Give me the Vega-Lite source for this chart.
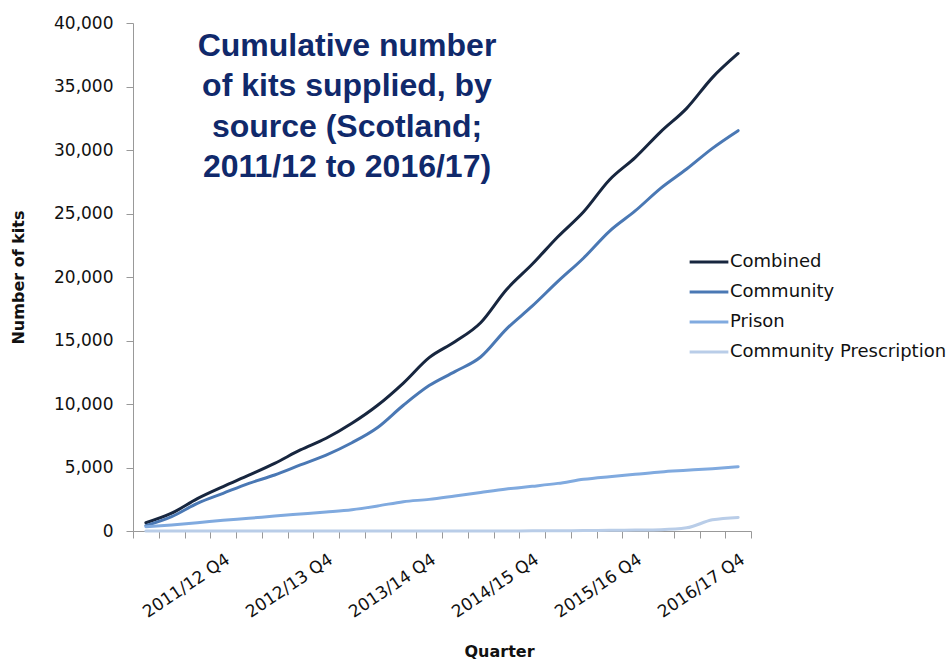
{
  "$schema": "https://vega.github.io/schema/vega-lite/v6.json",
  "autosize": "none",
  "width": 618,
  "height": 508,
  "padding": {"left": 133, "top": 23, "right": 197, "bottom": 130},
  "background": "white",
  "config": {
    "view": {"stroke": null},
    "font": "DejaVu Sans"
  },
  "title": {
    "text": ["Cumulative number", "of kits supplied, by", "source (Scotland;", "2011/12 to 2016/17)"],
    "anchor": "start",
    "align": "center",
    "frame": "group",
    "orient": "top",
    "offset": 0,
    "dx": 214,
    "dy": 170,
    "baseline": "top",
    "font": "Liberation Sans",
    "fontSize": 32,
    "fontWeight": "bold",
    "lineHeight": 40.5,
    "color": "#10296b"
  },
  "data": {
    "values": [
      {"quarter": "2011/12 Q1", "source": "Combined", "kits": 650},
      {"quarter": "2011/12 Q2", "source": "Combined", "kits": 1400},
      {"quarter": "2011/12 Q3", "source": "Combined", "kits": 2550},
      {"quarter": "2011/12 Q4", "source": "Combined", "kits": 3500},
      {"quarter": "2012/13 Q1", "source": "Combined", "kits": 4400},
      {"quarter": "2012/13 Q2", "source": "Combined", "kits": 5330},
      {"quarter": "2012/13 Q3", "source": "Combined", "kits": 6380},
      {"quarter": "2012/13 Q4", "source": "Combined", "kits": 7300},
      {"quarter": "2013/14 Q1", "source": "Combined", "kits": 8480},
      {"quarter": "2013/14 Q2", "source": "Combined", "kits": 9900},
      {"quarter": "2013/14 Q3", "source": "Combined", "kits": 11650},
      {"quarter": "2013/14 Q4", "source": "Combined", "kits": 13650},
      {"quarter": "2014/15 Q1", "source": "Combined", "kits": 14900},
      {"quarter": "2014/15 Q2", "source": "Combined", "kits": 16400},
      {"quarter": "2014/15 Q3", "source": "Combined", "kits": 19000},
      {"quarter": "2014/15 Q4", "source": "Combined", "kits": 21000},
      {"quarter": "2015/16 Q1", "source": "Combined", "kits": 23170},
      {"quarter": "2015/16 Q2", "source": "Combined", "kits": 25140},
      {"quarter": "2015/16 Q3", "source": "Combined", "kits": 27640},
      {"quarter": "2015/16 Q4", "source": "Combined", "kits": 29400},
      {"quarter": "2016/17 Q1", "source": "Combined", "kits": 31450},
      {"quarter": "2016/17 Q2", "source": "Combined", "kits": 33280},
      {"quarter": "2016/17 Q3", "source": "Combined", "kits": 35700},
      {"quarter": "2016/17 Q4", "source": "Combined", "kits": 37600},
      {"quarter": "2011/12 Q1", "source": "Community", "kits": 420},
      {"quarter": "2011/12 Q2", "source": "Community", "kits": 1130},
      {"quarter": "2011/12 Q3", "source": "Community", "kits": 2180},
      {"quarter": "2011/12 Q4", "source": "Community", "kits": 2970},
      {"quarter": "2012/13 Q1", "source": "Community", "kits": 3750},
      {"quarter": "2012/13 Q2", "source": "Community", "kits": 4410},
      {"quarter": "2012/13 Q3", "source": "Community", "kits": 5200},
      {"quarter": "2012/13 Q4", "source": "Community", "kits": 5980},
      {"quarter": "2013/14 Q1", "source": "Community", "kits": 6950},
      {"quarter": "2013/14 Q2", "source": "Community", "kits": 8150},
      {"quarter": "2013/14 Q3", "source": "Community", "kits": 9900},
      {"quarter": "2013/14 Q4", "source": "Community", "kits": 11450},
      {"quarter": "2014/15 Q1", "source": "Community", "kits": 12550},
      {"quarter": "2014/15 Q2", "source": "Community", "kits": 13700},
      {"quarter": "2014/15 Q3", "source": "Community", "kits": 15900},
      {"quarter": "2014/15 Q4", "source": "Community", "kits": 17700},
      {"quarter": "2015/16 Q1", "source": "Community", "kits": 19650},
      {"quarter": "2015/16 Q2", "source": "Community", "kits": 21500},
      {"quarter": "2015/16 Q3", "source": "Community", "kits": 23600},
      {"quarter": "2015/16 Q4", "source": "Community", "kits": 25200},
      {"quarter": "2016/17 Q1", "source": "Community", "kits": 27000},
      {"quarter": "2016/17 Q2", "source": "Community", "kits": 28500},
      {"quarter": "2016/17 Q3", "source": "Community", "kits": 30130},
      {"quarter": "2016/17 Q4", "source": "Community", "kits": 31520},
      {"quarter": "2011/12 Q1", "source": "Prison", "kits": 340},
      {"quarter": "2011/12 Q2", "source": "Prison", "kits": 480},
      {"quarter": "2011/12 Q3", "source": "Prison", "kits": 650},
      {"quarter": "2011/12 Q4", "source": "Prison", "kits": 840},
      {"quarter": "2012/13 Q1", "source": "Prison", "kits": 1000},
      {"quarter": "2012/13 Q2", "source": "Prison", "kits": 1180},
      {"quarter": "2012/13 Q3", "source": "Prison", "kits": 1340},
      {"quarter": "2012/13 Q4", "source": "Prison", "kits": 1500},
      {"quarter": "2013/14 Q1", "source": "Prison", "kits": 1680},
      {"quarter": "2013/14 Q2", "source": "Prison", "kits": 1970},
      {"quarter": "2013/14 Q3", "source": "Prison", "kits": 2310},
      {"quarter": "2013/14 Q4", "source": "Prison", "kits": 2490},
      {"quarter": "2014/15 Q1", "source": "Prison", "kits": 2760},
      {"quarter": "2014/15 Q2", "source": "Prison", "kits": 3040},
      {"quarter": "2014/15 Q3", "source": "Prison", "kits": 3310},
      {"quarter": "2014/15 Q4", "source": "Prison", "kits": 3520},
      {"quarter": "2015/16 Q1", "source": "Prison", "kits": 3750},
      {"quarter": "2015/16 Q2", "source": "Prison", "kits": 4070},
      {"quarter": "2015/16 Q3", "source": "Prison", "kits": 4280},
      {"quarter": "2015/16 Q4", "source": "Prison", "kits": 4460},
      {"quarter": "2016/17 Q1", "source": "Prison", "kits": 4650},
      {"quarter": "2016/17 Q2", "source": "Prison", "kits": 4780},
      {"quarter": "2016/17 Q3", "source": "Prison", "kits": 4910},
      {"quarter": "2016/17 Q4", "source": "Prison", "kits": 5060},
      {"quarter": "2011/12 Q1", "source": "Community Prescription", "kits": 0},
      {"quarter": "2011/12 Q2", "source": "Community Prescription", "kits": 0},
      {"quarter": "2011/12 Q3", "source": "Community Prescription", "kits": 0},
      {"quarter": "2011/12 Q4", "source": "Community Prescription", "kits": 0},
      {"quarter": "2012/13 Q1", "source": "Community Prescription", "kits": 0},
      {"quarter": "2012/13 Q2", "source": "Community Prescription", "kits": 0},
      {"quarter": "2012/13 Q3", "source": "Community Prescription", "kits": 0},
      {"quarter": "2012/13 Q4", "source": "Community Prescription", "kits": 0},
      {"quarter": "2013/14 Q1", "source": "Community Prescription", "kits": 0},
      {"quarter": "2013/14 Q2", "source": "Community Prescription", "kits": 0},
      {"quarter": "2013/14 Q3", "source": "Community Prescription", "kits": 0},
      {"quarter": "2013/14 Q4", "source": "Community Prescription", "kits": 0},
      {"quarter": "2014/15 Q1", "source": "Community Prescription", "kits": 0},
      {"quarter": "2014/15 Q2", "source": "Community Prescription", "kits": 0},
      {"quarter": "2014/15 Q3", "source": "Community Prescription", "kits": 5},
      {"quarter": "2014/15 Q4", "source": "Community Prescription", "kits": 10},
      {"quarter": "2015/16 Q1", "source": "Community Prescription", "kits": 20},
      {"quarter": "2015/16 Q2", "source": "Community Prescription", "kits": 30},
      {"quarter": "2015/16 Q3", "source": "Community Prescription", "kits": 50},
      {"quarter": "2015/16 Q4", "source": "Community Prescription", "kits": 70},
      {"quarter": "2016/17 Q1", "source": "Community Prescription", "kits": 100},
      {"quarter": "2016/17 Q2", "source": "Community Prescription", "kits": 250},
      {"quarter": "2016/17 Q3", "source": "Community Prescription", "kits": 880},
      {"quarter": "2016/17 Q4", "source": "Community Prescription", "kits": 1070}
    ]
  },
  "mark": {"type": "line", "interpolate": "monotone", "strokeWidth": 3, "strokeCap": "round"},
  "encoding": {
    "x": {
      "field": "quarter",
      "type": "ordinal",
      "sort": null,
      "scale": {"type": "band", "paddingInner": 0, "paddingOuter": 0},
      "axis": {
        "title": "Quarter",
        "titleFont": "DejaVu Sans",
        "titleFontSize": 16,
        "titleFontWeight": "bold",
        "titleColor": "#111111",
        "titleX": 366,
        "titleY": 120,
        "titleBaseline": "middle",
        "labelExpr": "indexof(datum.label, 'Q4') >= 0 ? datum.label : ''",
        "labelAngle": -34,
        "labelAlign": "right",
        "labelBaseline": "top",
        "labelPadding": 13,
        "labelOverlap": false,
        "labelFontSize": 17,
        "labelColor": "#111111",
        "tickBand": "extent",
        "tickSize": 7,
        "tickColor": "#999999",
        "domainColor": "#999999",
        "grid": false
      }
    },
    "y": {
      "field": "kits",
      "type": "quantitative",
      "scale": {"domain": [0, 40000]},
      "axis": {
        "title": "Number of kits",
        "titleFont": "DejaVu Sans",
        "titleFontSize": 16,
        "titleFontWeight": "bold",
        "titleColor": "#111111",
        "titleX": -115,
        "titleY": 254,
        "titleBaseline": "middle",
        "values": [0, 5000, 10000, 15000, 20000, 25000, 30000, 35000, 40000],
        "format": ",.0f",
        "labelFontSize": 17,
        "labelColor": "#111111",
        "labelPadding": 13,
        "tickSize": 7,
        "tickColor": "#999999",
        "domainColor": "#999999",
        "grid": false
      }
    },
    "color": {
      "field": "source",
      "type": "nominal",
      "sort": ["Combined", "Community", "Prison", "Community Prescription"],
      "scale": {
        "domain": ["Combined", "Community", "Prison", "Community Prescription"],
        "range": ["#17263f", "#4a78b4", "#80aadf", "#b9cde8"]
      },
      "legend": {
        "title": null,
        "orient": "none",
        "legendX": 555,
        "legendY": 218,
        "symbolType": "stroke",
        "symbolSize": 1500,
        "symbolStrokeWidth": 3,
        "labelFontSize": 18,
        "labelLimit": 0,
        "labelColor": "#111111",
        "labelOffset": 0,
        "rowPadding": -4,
        "padding": 0
      }
    }
  }
}
